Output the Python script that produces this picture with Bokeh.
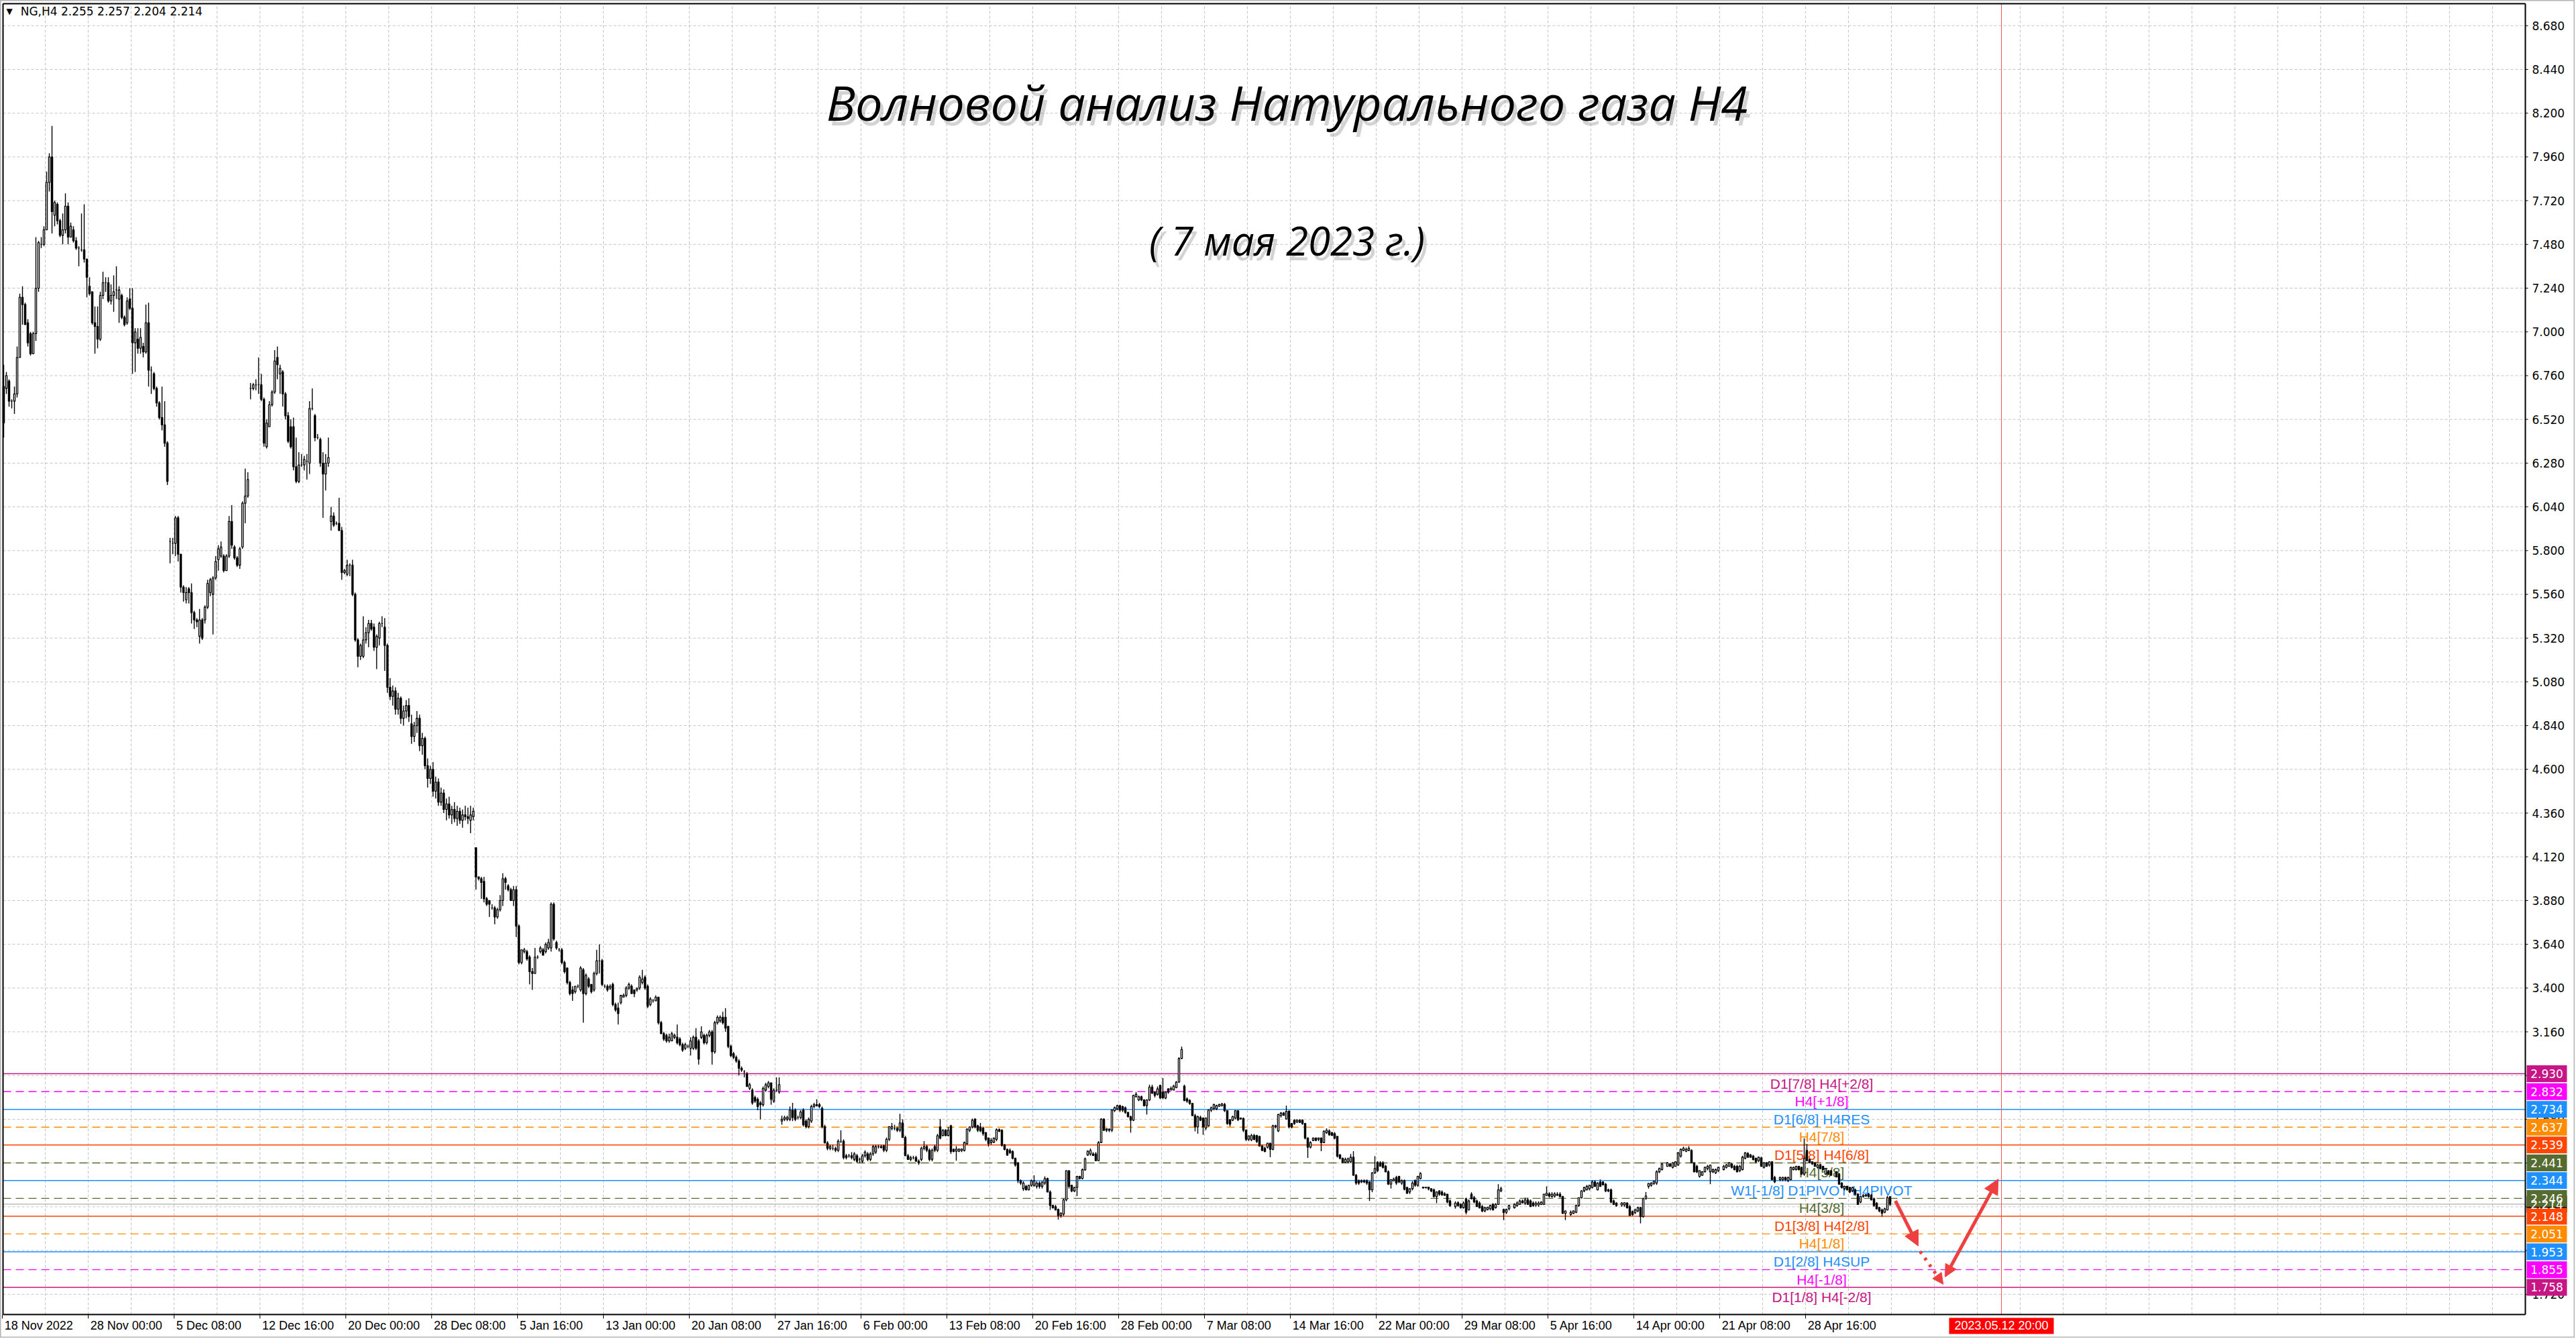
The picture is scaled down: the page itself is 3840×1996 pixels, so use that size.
from bokeh.plotting import figure
from bokeh.models import Range1d, Arrow, NormalHead, ColumnDataSource
from bokeh.core.properties import value
from bokeh.embed import file_html
from bokeh.resources import INLINE

symbol = "NG,H4"

# (open, high, low, close) per H4 bar
ohlc_nov = [
 (6.70,6.82,6.42,6.50),(6.69,6.78,6.66,6.76),(6.73,6.74,6.59,6.62),(6.62,6.63,6.58,6.62),
 (6.62,6.70,6.55,6.66),(6.66,6.92,6.64,6.86),(6.86,7.21,6.86,7.19),(7.19,7.25,7.04,7.15),
 (7.15,7.16,7.04,7.04),(7.05,7.07,6.92,6.94),(6.99,7.00,6.87,6.88),(6.88,7.00,6.88,6.99),
 (6.99,7.52,6.95,7.24),(7.24,7.50,7.22,7.49),(7.48,7.52,7.46,7.48),(7.48,7.58,7.47,7.56),
 (7.56,7.88,7.56,7.82),(7.82,7.98,7.77,7.96),(7.96,8.13,7.54,7.66),(7.64,7.72,7.58,7.71),
 (7.70,7.71,7.59,7.61),(7.61,7.62,7.52,7.53),(7.53,7.65,7.48,7.56),(7.56,7.76,7.54,7.69),
 (7.69,7.71,7.48,7.52),(7.52,7.60,7.52,7.58),(7.56,7.58,7.49,7.50),(7.50,7.52,7.45,7.46),
 (7.46,7.47,7.36,7.46),(7.45,7.65,7.44,7.45),(7.45,7.70,7.38,7.40),(7.40,7.40,7.19,7.30),
 (7.25,7.30,7.20,7.21),(7.22,7.22,7.04,7.05),(7.05,7.14,6.88,7.03),(7.03,7.14,6.91,6.96),
 (6.96,7.22,6.95,7.20),(7.20,7.33,7.18,7.27),(7.27,7.30,7.22,7.27),(7.27,7.30,7.16,7.17),
 (7.17,7.26,7.15,7.20),(7.20,7.31,7.11,7.22),(7.23,7.36,7.18,7.23),(7.18,7.25,7.05,7.23),
 (7.20,7.21,7.07,7.08),(7.08,7.09,7.03,7.04),(7.05,7.19,7.04,7.17),(7.18,7.24,7.12,7.13),
 (7.13,7.24,6.77,6.94),(6.94,7.02,6.78,7.00),(6.96,7.02,6.88,6.91),(6.91,7.02,6.88,6.97),
 (6.92,6.94,6.86,6.89),(6.89,7.15,6.88,7.05),(7.05,7.16,6.70,6.79),(6.79,6.81,6.66,6.79),
 (6.77,6.78,6.68,6.69),(6.69,6.70,6.59,6.61),(6.61,6.62,6.52,6.53),(6.53,6.70,6.46,6.49),
 (6.49,6.62,6.37,6.39),(6.39,6.40,6.16,6.18),
]
ohlc_dec = [
 (5.85,5.87,5.73,5.85),(5.84,5.87,5.78,5.84),(5.84,5.99,5.77,5.98),(5.98,5.99,5.74,5.78),
 (5.78,5.78,5.57,5.60),(5.60,5.61,5.52,5.57),(5.53,5.60,5.51,5.57),(5.59,5.60,5.51,5.57),
 (5.57,5.62,5.40,5.46),(5.46,5.47,5.37,5.42),(5.42,5.43,5.38,5.41),(5.33,5.48,5.29,5.42),
 (5.42,5.43,5.31,5.32),(5.42,5.50,5.40,5.49),(5.49,5.64,5.48,5.62),(5.57,5.65,5.55,5.64),
 (5.56,5.66,5.34,5.65),(5.65,5.77,5.64,5.74),(5.75,5.83,5.69,5.81),(5.77,5.85,5.76,5.82),
 (5.77,5.78,5.68,5.69),(5.69,5.78,5.69,5.77),(5.77,5.99,5.76,5.96),(5.96,6.05,5.81,5.83),
 (5.82,5.83,5.75,5.76),(5.76,5.77,5.71,5.72),(5.72,5.82,5.70,5.81),(5.82,6.07,5.81,6.06),
 (6.06,6.25,5.95,6.10),(6.10,6.23,6.09,6.19),
 (6.69,6.72,6.63,6.69),(6.69,6.72,6.68,6.71),(6.71,6.74,6.68,6.71),(6.71,6.86,6.66,6.71),
 (6.71,6.77,6.62,6.63),(6.63,6.64,6.37,6.39),(6.37,6.52,6.36,6.50),(6.48,6.62,6.48,6.60),
 (6.60,6.68,6.59,6.67),(6.67,6.90,6.66,6.84),(6.86,6.92,6.74,6.82),(6.77,6.82,6.66,6.80),
 (6.78,6.79,6.59,6.66),(6.66,6.67,6.52,6.54),(6.54,6.56,6.39,6.40),(6.48,6.52,6.36,6.37),
 (6.48,6.53,6.24,6.26),(6.26,6.42,6.17,6.18),(6.18,6.34,6.17,6.27),(6.27,6.33,6.26,6.27),
 (6.27,6.32,6.24,6.30),(6.29,6.33,6.19,6.29),(6.28,6.62,6.22,6.58),(6.58,6.69,6.57,6.58),
 (6.54,6.55,6.40,6.42),(6.42,6.44,6.41,6.42),(6.41,6.42,6.26,6.28),(6.28,6.34,5.98,6.22),
 (6.22,6.33,6.13,6.28),(6.28,6.42,6.26,6.31),
 (5.96,6.04,5.91,5.99),(5.99,6.01,5.93,5.94),(5.95,5.96,5.94,5.95),(5.95,6.09,5.91,5.91),
 (5.91,5.93,5.64,5.68),(5.68,5.70,5.67,5.69),(5.67,5.75,5.66,5.72),(5.72,5.73,5.66,5.72),
 (5.72,5.75,5.55,5.56),(5.56,5.57,5.30,5.31),(5.31,5.32,5.16,5.22),(5.22,5.29,5.20,5.28),
 (5.22,5.44,5.21,5.31),(5.31,5.38,5.29,5.35),(5.35,5.42,5.27,5.40),(5.40,5.42,5.36,5.37),
 (5.38,5.40,5.25,5.27),(5.27,5.34,5.15,5.33),(5.32,5.41,5.28,5.40),(5.40,5.44,5.38,5.40),
 (5.38,5.43,5.14,5.28),
 (5.28,5.29,5.02,5.05),(5.05,5.10,4.98,5.00),(5.00,5.06,4.95,5.03),(5.03,5.05,4.90,4.93),
 (4.93,5.02,4.90,4.99),(4.99,5.00,4.85,4.88),(4.88,4.95,4.84,4.92),(4.92,4.98,4.88,4.95),
 (4.95,4.99,4.86,4.89),(4.85,4.90,4.74,4.78),(4.78,4.86,4.75,4.84),(4.84,4.92,4.80,4.88),
 (4.88,4.90,4.70,4.73),(4.73,4.80,4.68,4.77),(4.77,4.78,4.60,4.62),(4.62,4.66,4.50,4.55),
 (4.55,4.62,4.52,4.60),(4.60,4.64,4.45,4.48),(4.48,4.56,4.44,4.53),(4.53,4.55,4.40,4.42),
 (4.42,4.50,4.40,4.47),(4.47,4.49,4.36,4.38),(4.38,4.44,4.32,4.41),(4.41,4.45,4.33,4.35),
 (4.35,4.40,4.30,4.38),(4.38,4.42,4.31,4.33),(4.33,4.40,4.29,4.37),(4.37,4.39,4.30,4.32),
 (4.32,4.38,4.28,4.35),(4.35,4.40,4.32,4.34),(4.34,4.39,4.30,4.33),
 (4.32,4.40,4.25,4.35),(4.34,4.39,4.32,4.37),
]
ohlc_jan = [
 (4.17,4.17,3.94,4.01),(4.01,4.01,3.99,4.00),(4.00,4.01,3.89,3.98),(3.985,4.01,3.87,3.89),
 (3.89,3.90,3.85,3.86),(3.88,3.88,3.79,3.86),(3.84,3.86,3.83,3.84),(3.84,3.85,3.75,3.79),
 (3.79,3.84,3.78,3.83),(3.83,3.91,3.82,3.88),(3.88,4.03,3.85,4.00),(4.00,4.01,3.94,3.98),
 (3.96,3.97,3.93,3.94),(3.94,3.95,3.88,3.88),(3.88,3.96,3.85,3.94),(3.94,3.96,3.68,3.74),
 (3.74,3.75,3.53,3.54),(3.54,3.61,3.53,3.61),(3.60,3.62,3.59,3.61),(3.60,3.61,3.55,3.56),
 (3.57,3.58,3.42,3.49),(3.49,3.51,3.39,3.48),(3.48,3.62,3.48,3.57),(3.57,3.58,3.56,3.57),
 (3.60,3.63,3.59,3.62),(3.61,3.62,3.58,3.58),(3.60,3.65,3.59,3.64),(3.62,3.67,3.61,3.65),
 (3.62,3.87,3.60,3.86),(3.86,3.87,3.66,3.67),(3.65,3.66,3.61,3.62),(3.61,3.62,3.60,3.61),
 (3.61,3.62,3.53,3.54),(3.54,3.55,3.48,3.49),(3.51,3.51,3.42,3.43),(3.43,3.44,3.36,3.37),
 (3.39,3.41,3.33,3.37),(3.38,3.41,3.37,3.41),(3.41,3.42,3.40,3.41),(3.39,3.52,3.38,3.51),
 (3.50,3.51,3.21,3.37),(3.37,3.48,3.36,3.47),(3.45,3.46,3.40,3.41),(3.42,3.42,3.37,3.38),
 (3.39,3.49,3.38,3.48),(3.48,3.61,3.47,3.55),(3.55,3.64,3.48,3.55),(3.55,3.56,3.41,3.42),
 (3.41,3.42,3.40,3.41),(3.41,3.42,3.38,3.39),(3.40,3.42,3.39,3.41),(3.42,3.43,3.30,3.31),
 (3.31,3.32,3.27,3.28),(3.29,3.32,3.20,3.26),(3.32,3.36,3.31,3.36),(3.35,3.37,3.35,3.36),
 (3.36,3.41,3.35,3.40),(3.40,3.43,3.39,3.42),(3.41,3.42,3.37,3.37),(3.39,3.39,3.35,3.37),
 (3.39,3.40,3.38,3.40),(3.40,3.47,3.39,3.46),(3.43,3.50,3.42,3.45),(3.46,3.47,3.39,3.40),
 (3.41,3.42,3.29,3.30),(3.31,3.35,3.30,3.34),(3.33,3.34,3.32,3.33),(3.33,3.36,3.33,3.35),
 (3.35,3.35,3.20,3.21),(3.21,3.22,3.15,3.15),(3.15,3.16,3.11,3.12),(3.14,3.15,3.10,3.11),
 (3.11,3.15,3.10,3.13),(3.11,3.16,3.11,3.15),(3.13,3.15,3.12,3.14),(3.13,3.20,3.09,3.10),
 (3.12,3.13,3.08,3.09),(3.09,3.10,3.05,3.06),(3.07,3.10,3.06,3.09),(3.08,3.09,3.07,3.08),
 (3.07,3.13,3.03,3.11),(3.07,3.14,3.06,3.13),(3.13,3.18,3.06,3.07),(3.11,3.12,2.98,3.01),
 (3.13,3.19,3.12,3.16),(3.14,3.15,3.09,3.10),(3.10,3.15,3.09,3.14),(3.14,3.17,3.13,3.16),
 (3.16,3.17,2.98,3.05),(3.05,3.22,3.04,3.21),(3.21,3.25,3.20,3.24),(3.22,3.25,3.21,3.24),
 (3.24,3.27,3.20,3.21),(3.24,3.29,3.16,3.18),(3.19,3.19,3.07,3.08),(3.08,3.09,3.02,3.03),
 (3.04,3.05,3.01,3.02),(3.02,3.03,2.99,3.00),(3.00,3.01,2.92,2.96),(2.96,2.97,2.94,2.95),
 (2.94,2.95,2.91,2.94),(2.93,2.94,2.86,2.86),(2.85,2.88,2.84,2.87),(2.84,2.85,2.76,2.77),
 (2.80,2.81,2.77,2.78),(2.79,2.80,2.73,2.75),(2.77,2.78,2.68,2.76),(2.76,2.86,2.75,2.85),
 (2.84,2.88,2.83,2.87),(2.86,2.89,2.85,2.88),(2.88,2.88,2.76,2.79),(2.78,2.85,2.77,2.84),
 (2.84,2.91,2.83,2.84),(2.83,2.91,2.82,2.87),
]
ohlc_feb = [
 (2.67,2.70,2.65,2.68),(2.68,2.70,2.67,2.69),(2.68,2.70,2.67,2.69),(2.68,2.75,2.67,2.73),
 (2.73,2.77,2.67,2.69),(2.73,2.74,2.67,2.68),(2.69,2.70,2.68,2.69),(2.69,2.73,2.68,2.72),
 (2.73,2.74,2.64,2.65),(2.67,2.68,2.63,2.64),(2.64,2.69,2.63,2.68),(2.67,2.76,2.66,2.75),
 (2.75,2.77,2.74,2.76),(2.76,2.79,2.75,2.755),(2.76,2.77,2.74,2.75),(2.74,2.75,2.63,2.64),
 (2.64,2.65,2.55,2.55),(2.55,2.56,2.51,2.52),(2.52,2.54,2.51,2.53),(2.52,2.54,2.51,2.52),
 (2.52,2.53,2.50,2.51),(2.51,2.57,2.50,2.56),(2.56,2.62,2.55,2.56),(2.56,2.57,2.46,2.47),
 (2.48,2.49,2.46,2.47),(2.48,2.49,2.47,2.48),
 (2.48,2.50,2.46,2.47),(2.46,2.50,2.45,2.49),(2.48,2.49,2.44,2.45),(2.46,2.47,2.44,2.46),
 (2.45,2.49,2.44,2.48),(2.48,2.51,2.47,2.50),(2.49,2.50,2.45,2.46),(2.46,2.50,2.45,2.49),
 (2.49,2.54,2.48,2.53),(2.50,2.54,2.49,2.53),(2.53,2.54,2.52,2.53),(2.53,2.54,2.52,2.525),
 (2.535,2.54,2.50,2.51),(2.51,2.58,2.50,2.57),(2.57,2.64,2.56,2.64),(2.63,2.66,2.62,2.64),
 (2.63,2.65,2.62,2.63),(2.63,2.64,2.61,2.62),(2.62,2.71,2.61,2.66),(2.66,2.68,2.58,2.58),
 (2.58,2.59,2.48,2.48),(2.48,2.49,2.46,2.46),(2.46,2.48,2.45,2.47),(2.47,2.48,2.46,2.47),
 (2.47,2.48,2.45,2.45),(2.45,2.46,2.43,2.44),(2.46,2.53,2.45,2.52),(2.52,2.56,2.51,2.53),
 (2.53,2.54,2.50,2.51),(2.51,2.52,2.45,2.46),(2.46,2.52,2.45,2.51),(2.53,2.54,2.50,2.51),
 (2.51,2.60,2.50,2.59),
 (2.638,2.681,2.570,2.577),(2.591,2.626,2.586,2.620),(2.620,2.626,2.586,2.591),(2.591,2.638,2.586,2.620),
 (2.644,2.650,2.490,2.503),(2.515,2.520,2.500,2.503),(2.505,2.533,2.453,2.517),(2.505,2.520,2.500,2.517),
 (2.508,2.520,2.500,2.517),(2.509,2.558,2.503,2.552),(2.546,2.630,2.540,2.626),(2.620,2.640,2.610,2.638),
 (2.638,2.684,2.630,2.675),(2.681,2.685,2.630,2.638),(2.644,2.650,2.610,2.620),(2.638,2.660,2.610,2.616),
 (2.632,2.640,2.590,2.601),(2.607,2.610,2.560,2.570),(2.577,2.580,2.530,2.546),(2.552,2.577,2.540,2.564),
 (2.554,2.580,2.550,2.577),(2.570,2.630,2.560,2.623),(2.623,2.630,2.610,2.614),(2.620,2.625,2.530,2.537),
 (2.540,2.545,2.510,2.515),(2.515,2.520,2.480,2.484),(2.509,2.520,2.490,2.497),(2.503,2.510,2.460,2.466),
 (2.466,2.470,2.420,2.429),(2.441,2.445,2.330,2.343),(2.343,2.350,2.320,2.330),(2.299,2.340,2.287,2.330),
 (2.312,2.320,2.290,2.293),(2.293,2.320,2.290,2.318),(2.318,2.350,2.310,2.343),(2.318,2.373,2.310,2.343),
 (2.312,2.340,2.300,2.330),(2.330,2.340,2.300,2.312),(2.312,2.340,2.300,2.336),(2.330,2.367,2.320,2.355),
 (2.355,2.360,2.280,2.281),(2.281,2.290,2.183,2.207),(2.207,2.210,2.190,2.195),(2.200,2.210,2.180,2.183),
 (2.185,2.190,2.130,2.152),(2.152,2.170,2.140,2.164),(2.160,2.245,2.150,2.238),(2.238,2.400,2.230,2.398),
 (2.398,2.400,2.300,2.312),(2.318,2.320,2.280,2.287),(2.287,2.310,2.280,2.306),(2.306,2.370,2.259,2.367),
 (2.367,2.370,2.350,2.355),(2.355,2.410,2.350,2.404),(2.402,2.470,2.400,2.463),(2.484,2.510,2.480,2.505),
 (2.490,2.520,2.480,2.509),(2.490,2.500,2.480,2.481),(2.490,2.500,2.450,2.453),(2.453,2.560,2.450,2.552),
 (2.552,2.685,2.550,2.681),(2.681,2.685,2.615,2.620),(2.628,2.630,2.610,2.620),(2.626,2.630,2.610,2.620),
 (2.620,2.735,2.610,2.730),(2.727,2.750,2.720,2.743),(2.737,2.760,2.730,2.755),(2.755,2.760,2.720,2.730),
 (2.749,2.755,2.720,2.730),(2.743,2.750,2.710,2.718),(2.718,2.720,2.690,2.694),(2.694,2.700,2.607,2.675),
 (2.675,2.815,2.670,2.811),(2.804,2.830,2.800,2.817),(2.786,2.810,2.780,2.804),(2.804,2.810,2.780,2.786),
 (2.786,2.790,2.750,2.755),(2.755,2.790,2.706,2.786),(2.786,2.870,2.780,2.857),(2.857,2.870,2.820,2.823),
 (2.829,2.830,2.800,2.811),(2.817,2.860,2.810,2.847),(2.866,2.870,2.790,2.798),(2.829,2.907,2.790,2.798),
 (2.796,2.830,2.790,2.829),(2.847,2.850,2.820,2.829),(2.841,2.860,2.840,2.850),(2.841,2.870,2.840,2.862),
 (2.854,2.890,2.850,2.884),(2.884,3.020,2.880,3.014),(3.014,3.079,3.010,3.063),
]
ohlc_mar = [
 (2.862,2.870,2.780,2.783),(2.792,2.800,2.770,2.780),(2.783,2.790,2.760,2.767),(2.767,2.770,2.700,2.700),
 (2.700,2.710,2.614,2.638),(2.638,2.700,2.601,2.694),(2.690,2.700,2.670,2.675),(2.687,2.690,2.595,2.638),
 (2.632,2.690,2.620,2.687),(2.644,2.735,2.640,2.730),(2.730,2.750,2.720,2.743),(2.739,2.765,2.730,2.761),
 (2.737,2.760,2.730,2.755),(2.751,2.765,2.750,2.761),(2.755,2.770,2.750,2.764),(2.761,2.770,2.720,2.727),
 (2.727,2.730,2.650,2.657),(2.678,2.680,2.640,2.653),(2.675,2.700,2.670,2.694),(2.687,2.730,2.680,2.727),
 (2.727,2.730,2.670,2.678),(2.687,2.690,2.680,2.681),(2.684,2.690,2.610,2.620),(2.620,2.625,2.560,2.570),
 (2.570,2.590,2.560,2.589),(2.567,2.600,2.560,2.591),(2.591,2.600,2.565,2.570),(2.591,2.595,2.550,2.558),
 (2.586,2.590,2.530,2.533),(2.533,2.540,2.505,2.509),(2.521,2.530,2.500,2.503),(2.527,2.550,2.520,2.549),
 (2.549,2.550,2.472,2.515),(2.515,2.650,2.510,2.644),(2.638,2.650,2.630,2.644),(2.616,2.710,2.610,2.706),
 (2.700,2.720,2.690,2.714),(2.714,2.720,2.700,2.702),(2.681,2.755,2.680,2.724),(2.724,2.730,2.630,2.638),
 (2.657,2.660,2.630,2.638),(2.675,2.680,2.650,2.657),(2.665,2.680,2.660,2.675),(2.675,2.680,2.660,2.663),
 (2.675,2.680,2.650,2.657),(2.657,2.660,2.570,2.577),(2.577,2.580,2.468,2.527),(2.527,2.560,2.520,2.552),
 (2.564,2.580,2.560,2.577),(2.577,2.580,2.560,2.564),(2.570,2.580,2.560,2.577),(2.577,2.580,2.505,2.552),
 (2.552,2.620,2.550,2.614),(2.607,2.630,2.600,2.620),(2.616,2.625,2.590,2.595),(2.607,2.610,2.590,2.591),
 (2.601,2.610,2.570,2.577),(2.586,2.590,2.470,2.478),(2.484,2.490,2.460,2.466),(2.466,2.470,2.440,2.444),
 (2.444,2.470,2.440,2.460),(2.447,2.470,2.440,2.463),(2.447,2.490,2.440,2.472),(2.472,2.505,2.370,2.373),
 (2.373,2.380,2.320,2.330),(2.343,2.350,2.320,2.330),(2.336,2.350,2.330,2.343),(2.343,2.350,2.330,2.336),
 (2.343,2.350,2.320,2.330),(2.336,2.340,2.232,2.293),(2.293,2.390,2.280,2.386),(2.386,2.478,2.380,2.410),
 (2.444,2.450,2.390,2.398),(2.441,2.450,2.420,2.423),(2.441,2.450,2.410,2.416),(2.423,2.430,2.390,2.392),
 (2.392,2.400,2.320,2.324),(2.324,2.350,2.300,2.349),(2.343,2.360,2.340,2.352),(2.361,2.370,2.320,2.330),
 (2.367,2.370,2.330,2.336),(2.330,2.350,2.320,2.343),(2.343,2.350,2.290,2.296),(2.306,2.310,2.270,2.275),
 (2.281,2.300,2.270,2.299),(2.299,2.340,2.290,2.330),(2.343,2.350,2.310,2.318),(2.318,2.370,2.310,2.367),
 (2.355,2.390,2.350,2.382),
]
# April: None marks a bar that could not be read separately in the picture
ohlc_apr = [
 (2.308,2.310,2.300,2.303),(2.307,2.310,2.300,2.305),(2.308,2.310,2.290,2.299),(2.299,2.300,2.280,2.287),
 (2.293,2.300,2.250,2.256),(2.256,2.285,2.220,2.281),(2.287,2.290,2.260,2.269),(2.281,2.290,2.260,2.266),
 (2.271,2.280,2.260,2.263),(2.269,2.270,2.220,2.226),(2.232,2.240,2.200,2.207),None,(2.201,2.230,2.190,2.220),
 (2.222,2.230,2.200,2.207),(2.213,2.220,2.190,2.195),(2.195,2.230,2.190,2.220),(2.244,2.250,2.158,2.170),
 (2.183,2.240,2.180,2.232),(2.269,2.280,2.240,2.244),(2.250,2.260,2.220,2.226),(2.232,2.240,2.200,2.201),
 (2.220,2.230,2.190,2.195),(2.201,2.210,2.170,2.177),(2.177,2.200,2.170,2.195),(2.185,2.200,2.180,2.197),
 (2.189,2.210,2.180,2.207),(2.213,2.220,2.180,2.183),(2.195,2.220,2.190,2.213),(2.213,2.324,2.210,2.293),
 (2.287,2.310,2.280,2.299),(2.185,2.190,2.127,2.168),(2.170,2.190,2.160,2.185),(2.189,2.210,2.180,2.207),
 None,(2.195,2.220,2.190,2.213),(2.207,2.230,2.200,2.220),(2.213,2.240,2.210,2.232),(2.232,2.240,2.220,2.222),
 (2.220,2.250,2.210,2.238),(2.238,2.250,2.210,2.213),(2.232,2.240,2.200,2.201),(2.220,2.230,2.200,2.207),
 (2.210,2.230,2.200,2.220),(2.210,2.230,2.200,2.220),(2.213,2.230,2.210,2.226),(2.213,2.270,2.210,2.269),
 (2.263,2.312,2.260,2.275),(2.271,2.280,2.250,2.259),(2.256,2.280,2.250,2.269),(2.259,2.280,2.250,2.271),
 (2.263,2.280,2.260,2.269),(2.269,2.280,2.250,2.256),(2.256,2.260,2.160,2.164),(2.164,2.180,2.127,2.177),
 None,(2.158,2.180,2.150,2.170),(2.164,2.180,2.160,2.177),(2.170,2.210,2.165,2.207),(2.207,2.250,2.200,2.250),
 (2.250,2.290,2.245,2.287),(2.287,2.310,2.280,2.306),(2.293,2.320,2.290,2.312),(2.299,2.320,2.290,2.318),
 (2.306,2.345,2.300,2.336),(2.336,2.345,2.310,2.312),(2.293,2.335,2.290,2.330),(2.336,2.350,2.310,2.312),
 (2.336,2.340,2.320,2.320),(2.324,2.330,2.280,2.287),(2.293,2.300,2.280,2.287),(2.293,2.300,2.220,2.226),
 (2.232,2.240,2.210,2.213),(2.220,2.225,2.200,2.207),None,(2.210,2.225,2.200,2.220),(2.210,2.225,2.200,2.222),
 (2.220,2.225,2.190,2.195),(2.201,2.210,2.150,2.152),(2.173,2.180,2.150,2.158),(2.168,2.190,2.160,2.183),
 (2.177,2.200,2.170,2.195),(2.195,2.200,2.109,2.146),(2.146,2.250,2.140,2.244),(2.244,2.281,2.240,2.259),
 (2.312,2.330,2.300,2.328),(2.318,2.335,2.310,2.330),(2.328,2.345,2.320,2.340),(2.330,2.400,2.320,2.392),
 (2.392,2.415,2.385,2.410),(2.404,2.440,2.400,2.435),None,(2.422,2.445,2.420,2.441),(2.435,2.440,2.420,2.422),
 (2.416,2.445,2.410,2.441),(2.422,2.450,2.420,2.447),(2.429,2.500,2.425,2.496),(2.478,2.520,2.470,2.515),
 (2.509,2.530,2.505,2.521),(2.505,2.525,2.500,2.515),(2.509,2.533,2.505,2.521),(2.509,2.515,2.440,2.441),
 (2.441,2.445,2.390,2.392),(2.422,2.430,2.385,2.392),(2.367,2.400,2.360,2.398),(2.373,2.395,2.370,2.392),
 (2.392,2.420,2.390,2.416),(2.410,2.430,2.400,2.422),(2.392,2.430,2.324,2.429),(2.392,2.410,2.385,2.404),
 (2.386,2.410,2.380,2.404),(2.398,2.420,2.390,2.416),None,(2.404,2.430,2.400,2.422),(2.416,2.435,2.410,2.429),
 (2.422,2.445,2.420,2.441),(2.435,2.440,2.410,2.416),(2.422,2.430,2.400,2.404),(2.422,2.430,2.390,2.392),
 (2.398,2.430,2.390,2.422),(2.404,2.480,2.400,2.472),(2.466,2.500,2.460,2.496),(2.493,2.500,2.470,2.472),
 (2.484,2.490,2.470,2.472),(2.478,2.485,2.455,2.459),(2.466,2.470,2.440,2.447),(2.453,2.475,2.445,2.472),
 (2.468,2.475,2.420,2.422),(2.416,2.445,2.410,2.441),(2.441,2.445,2.420,2.422),(2.429,2.450,2.420,2.447),
 (2.447,2.450,2.345,2.349),(2.361,2.370,2.330,2.336),None,(2.349,2.365,2.340,2.361),(2.349,2.365,2.340,2.361),
 (2.361,2.365,2.340,2.349),(2.343,2.365,2.335,2.361),(2.349,2.420,2.345,2.416),(2.404,2.420,2.400,2.416),
 (2.404,2.425,2.400,2.422),(2.422,2.425,2.400,2.404),(2.416,2.420,2.375,2.379),(2.379,2.576,2.370,2.466),
 (2.509,2.545,2.450,2.453),(2.459,2.465,2.440,2.441),(2.447,2.450,2.430,2.435),(2.441,2.445,2.420,2.422),
 (2.416,2.435,2.410,2.429),(2.431,2.435,2.405,2.410),(2.422,2.425,2.400,2.404),(2.379,2.410,2.375,2.410),
 (2.398,2.400,2.375,2.379),(2.398,2.400,2.370,2.373),None,(2.392,2.395,2.360,2.367),(2.379,2.385,2.320,2.324),
 (2.330,2.335,2.300,2.306),(2.299,2.315,2.290,2.312),(2.312,2.315,2.290,2.293),(2.306,2.310,2.275,2.281),
 (2.287,2.310,2.280,2.306),(2.293,2.300,2.260,2.269),(2.269,2.275,2.210,2.213),(2.226,2.260,2.220,2.256),
 (2.256,2.270,2.250,2.263),(2.259,2.270,2.255,2.266),(2.269,2.275,2.250,2.256),(2.263,2.270,2.235,2.238),
 (2.244,2.250,2.200,2.207),(2.220,2.225,2.185,2.189),(2.195,2.200,2.170,2.177),(2.183,2.190,2.146,2.164),
 (2.170,2.195,2.165,2.189),(2.183,2.260,2.180,2.250),(2.255,2.257,2.204,2.214),
]

date_labels = ["18 Nov 2022", "28 Nov 00:00", "5 Dec 08:00", "12 Dec 16:00", "20 Dec 00:00",
               "28 Dec 08:00", "5 Jan 16:00", "13 Jan 00:00", "20 Jan 08:00", "27 Jan 16:00",
               "6 Feb 00:00", "13 Feb 08:00", "20 Feb 16:00", "28 Feb 00:00", "7 Mar 08:00",
               "14 Mar 16:00", "22 Mar 00:00", "29 Mar 08:00", "5 Apr 16:00", "14 Apr 00:00",
               "21 Apr 08:00", "28 Apr 16:00"]
date_label_bars = [0, 32, 64, 96, 128, 160, 192, 224, 256, 288, 320, 352, 384, 416, 448,
                   480, 512, 544, 576, 608, 640, 672]
grid_bars = [16 * k for k in range(59)]
price_ticks = [1.720, 1.960, 2.200, 2.440, 2.680, 2.920, 3.160, 3.400, 3.640, 3.880, 4.120,
               4.360, 4.600, 4.840, 5.080, 5.320, 5.560, 5.800, 6.040, 6.280, 6.520, 6.760,
               7.000, 7.240, 7.480, 7.720, 7.960, 8.200, 8.440, 8.680]

level_prices = [2.930, 2.832, 2.734, 2.637, 2.539, 2.441, 2.344, 2.246, 2.148, 2.051, 1.953, 1.855, 1.758]
level_names = ["D1[7/8] H4[+2/8]", "H4[+1/8]", "D1[6/8] H4RES", "H4[7/8]", "D1[5/8] H4[6/8]",
               "H4[5/8]", "W1[-1/8] D1PIVOT H4PIVOT", "H4[3/8]", "D1[3/8] H4[2/8]", "H4[1/8]",
               "D1[2/8] H4SUP", "H4[-1/8]", "D1[1/8] H4[-2/8]"]
level_colors = ["#C71585", "#FF00FF", "#1E90FF", "#FF8C00", "#FF4500", "#556B2F", "#1E90FF",
                "#556B2F", "#FF4500", "#FF8C00", "#1E90FF", "#FF00FF", "#C71585"]
level_dashed = [False, True, False, True, False, True, False, True, False, True, False, True, False]

forecast_bar = 744.5
forecast_label = "2023.05.12 20:00"
# forecast path (bar, price)
arrow_down = [(705.0, 2.232), (713.5, 1.985)]
arrow_dotted = [(714.2, 1.955), (722.8, 1.775)]
arrow_up = [(723.5, 1.815), (743.3, 2.352)]

title_text = "Волновой анализ Натурального газа Н4"
subtitle_text = "( 7 мая 2023 г.)"

bars = ohlc_nov + ohlc_dec + ohlc_jan + ohlc_feb + ohlc_mar + ohlc_apr
xs, op, hi, lo, cl = [], [], [], [], []
for i, b in enumerate(bars):
    if b is None:
        continue
    xs.append(i)
    op.append(b[0]); hi.append(b[1]); lo.append(b[2]); cl.append(b[3])

# the whole canvas is the frame; the chart window ends at XR (right) and YB (bottom)
W, H = 3838, 1994
PX = 4.0          # pixels per bar
PY = 271.7        # pixels per price unit
X0 = -5 / PX
X1 = X0 + W / PX
Y1 = 8.44 + 103 / PY
Y0 = Y1 - H / PY
XL, XR = -0.25, 939.75
YT, YB = 8.44 + 98 / PY, 1.609

p = figure(width=W, height=H, x_range=Range1d(X0, X1), y_range=Range1d(Y0, Y1),
           output_backend="svg", toolbar_location=None,
           x_axis_location=None, y_axis_location=None,
           min_border_left=0, min_border_top=0, min_border_right=0, min_border_bottom=0)
p.background_fill_color = "white"
p.border_fill_color = "white"
p.outline_line_color = "#B4B4B4"
p.outline_line_width = 2
p.xgrid.visible = False
p.ygrid.visible = False

grid_col = "#C4C4C4"
p.segment(x0=[XL] * len(price_ticks), y0=price_ticks, x1=[XR] * len(price_ticks), y1=price_ticks,
          line_color=grid_col, line_width=1, line_dash="4 3")
vg = [g - 0.5 for g in grid_bars if XL < g - 0.5 < XR]
p.segment(x0=vg, y0=[YB] * len(vg), x1=vg, y1=[YT] * len(vg),
          line_color=grid_col, line_width=1, line_dash="4 3")

# level lines
for v, c, d in zip(level_prices, level_colors, level_dashed):
    p.segment(x0=[XL], y0=[v], x1=[XR], y1=[v], line_color=c, line_width=1.4,
              line_dash="12 7" if d else "solid")
# bid line
p.segment(x0=[XL], y0=[cl[-1]], x1=[XR], y1=[cl[-1]], line_color="#BDBDBD", line_width=1.5)
# forecast vertical line
p.segment(x0=[forecast_bar], y0=[YB], x1=[forecast_bar], y1=[YT], line_color="#EE5555", line_width=1)

# level names
p.text(x=[677.5] * len(level_prices), y=level_prices, text=level_names, text_color=level_colors,
       text_align="center", text_baseline="top", y_offset=3,
       text_font=value("Liberation Sans"), text_font_size="21px")

# candles
src = ColumnDataSource(dict(
    x=xs, o=op, h=hi, l=lo, c=cl,
    top=[max(a, b) for a, b in zip(op, cl)],
    bot=[min(a, b) for a, b in zip(op, cl)],
    fill=["white" if c >= o else "black" for o, c in zip(op, cl)],
))
p.segment(x0="x", y0="l", x1="x", y1="h", source=src, line_color="black", line_width=1.4)
p.vbar(x="x", top="top", bottom="bot", width=0.55, source=src, fill_color="fill",
       line_color="black", line_width=1.3)

# forecast arrows
red = "#EE4040"
p.add_layout(Arrow(end=NormalHead(size=22, fill_color=red, line_color=red),
                   x_start=arrow_down[0][0], y_start=arrow_down[0][1],
                   x_end=arrow_down[1][0], y_end=arrow_down[1][1],
                   line_color=red, line_width=5))
p.add_layout(Arrow(end=NormalHead(size=16, fill_color=red, line_color=red),
                   x_start=arrow_dotted[0][0], y_start=arrow_dotted[0][1],
                   x_end=arrow_dotted[1][0], y_end=arrow_dotted[1][1],
                   line_color=red, line_width=5, line_dash="4 8"))
p.add_layout(Arrow(end=NormalHead(size=22, fill_color=red, line_color=red),
                   start=NormalHead(size=18, fill_color=red, line_color=red),
                   x_start=arrow_up[0][0], y_start=arrow_up[0][1],
                   x_end=arrow_up[1][0], y_end=arrow_up[1][1],
                   line_color=red, line_width=5))

# titles with soft shadow
for dx, dy, col, alpha in [(5, 7, "#808080", 0.35), (0, 0, "black", 1.0)]:
    p.text(x=[478.25], y=[8.26], text=[title_text], text_color=col, text_alpha=alpha,
           x_offset=dx, y_offset=dy, text_align="center", text_baseline="middle",
           text_font=value("Open Sans"), text_font_style="italic", text_font_size="72px")
    p.text(x=[478.25], y=[7.505], text=[subtitle_text], text_color=col, text_alpha=alpha,
           x_offset=dx, y_offset=dy, text_align="center", text_baseline="middle",
           text_font=value("Open Sans"), text_font_style="italic", text_font_size="60px")

# header
header = "%s  %.3f %.3f %.3f %.3f" % (symbol, op[-1], hi[-1], lo[-1], cl[-1])
p.text(x=[1.0], y=[8.757], text=["\u25BC"], text_color="black", text_align="left",
       text_baseline="middle", text_font=value("DejaVu Sans"), text_font_size="12px")
p.text(x=[6.3], y=[8.757], text=[header], text_color="black", text_align="left",
       text_baseline="middle", text_font=value("DejaVu Sans"), text_font_size="17px")

# chart window border
p.segment(x0=[XL, XR, XL, XL], y0=[YB, YB, YT, YB], x1=[XR, XR, XR, XL], y1=[YB, YT, YT, YT],
          line_color="black", line_width=2)

# price scale: tick marks and labels
p.segment(x0=[XR] * len(price_ticks), y0=price_ticks, x1=[XR + 1.0] * len(price_ticks),
          y1=price_ticks, line_color="black", line_width=1)
p.text(x=[XR + 2.5] * len(price_ticks), y=price_ticks, text=["%.3f" % t for t in price_ticks],
       text_color="black", text_align="left", text_baseline="middle",
       text_font=value("DejaVu Sans"), text_font_size="17px")

# time scale: tick marks and labels
tick_pos = [b - 0.5 for b in date_label_bars]
p.segment(x0=tick_pos, y0=[YB] * len(tick_pos), x1=tick_pos, y1=[YB - 6 / PY] * len(tick_pos),
          line_color="black", line_width=1)
p.text(x=[t + 0.8 for t in tick_pos], y=[YB - 17 / PY] * len(tick_pos), text=date_labels,
       text_color="black", text_align="left", text_baseline="middle",
       text_font=value("Liberation Sans"), text_font_size="18px")

# price boxes on the scale
box_x = XR + 8.0
box_prices = [cl[-1]] + level_prices
box_colors = ["black"] + level_colors
p.rect(x=[box_x] * len(box_prices), y=box_prices, width=60, height=25,
       width_units="screen", height_units="screen", fill_color=box_colors, line_color=None)
p.text(x=[box_x] * len(box_prices), y=box_prices, text=["%.3f" % v for v in box_prices],
       text_color="white", text_align="center", text_baseline="middle",
       text_font=value("DejaVu Sans"), text_font_size="17px")

# forecast time box
p.rect(x=[forecast_bar], y=[YB - 17 / PY], width=156, height=24, width_units="screen",
       height_units="screen", fill_color="#FF0000", line_color=None)
p.text(x=[forecast_bar], y=[YB - 17 / PY], text=[forecast_label], text_color="white",
       text_align="center", text_baseline="middle",
       text_font=value("Liberation Sans"), text_font_size="18px")

open("out.html", "w").write(file_html(p, INLINE))
